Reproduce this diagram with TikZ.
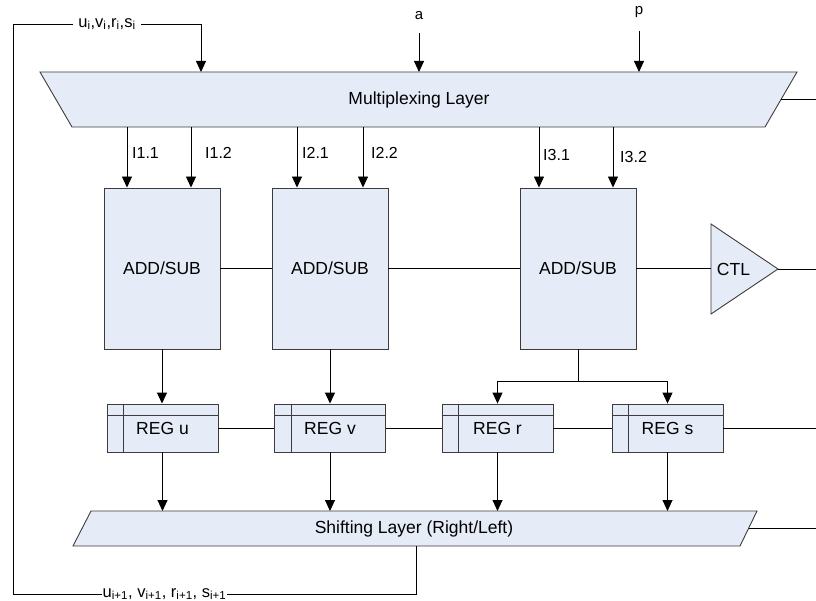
\documentclass[tikz,border=0pt]{standalone}
\usepackage{fontspec}
\setmainfont{Liberation Sans}
\usetikzlibrary{arrows.meta}
\definecolor{boxfill}{RGB}{230,236,247}
\definecolor{boxline}{RGB}{60,60,60}

\begin{document}
\begin{tikzpicture}[x=1pt,y=-1pt,
  wire/.style={line width=0.9pt, black},
  arr/.style={wire,-{Triangle[length=11pt,width=10pt]}},
  unit/.style={draw=boxline, fill=boxfill, line width=0.9pt, inner sep=0pt,
               font=\fontsize{17.5}{20}\selectfont},
  addbox/.style={unit, minimum width=116pt, minimum height=161pt},
  regbox/.style={unit, minimum width=111pt, minimum height=48pt},
  bigtext/.style={font=\fontsize{17.5}{20}\selectfont, inner sep=0pt},
  iolabel/.style={font=\fontsize{16}{19}\selectfont, anchor=west, inner sep=0pt},
  sigtext/.style={font=\fontsize{15}{18}\selectfont, inner sep=0pt},
  looptext/.style={font=\fontsize{16.5}{19}\selectfont, inner sep=0pt},
]
\useasboundingbox (0,0) rectangle (816,601);

% ---- Multiplexing layer (inverted trapezoid)
\filldraw[fill=boxfill, draw=boxline, line width=0.9pt]
  (40,72) -- (797,72) -- (765,127) -- (72,127) -- cycle;
\node[bigtext] (mux) at (419,99.5) {Multiplexing Layer};
\coordinate (muxR) at (781,99.5);
\coordinate (muxInU) at (201,72);
\coordinate (muxInA) at (419,72);
\coordinate (muxInP) at (639,72);
\coordinate (mo11) at (127,127);
\coordinate (mo12) at (191,127);
\coordinate (mo21) at (297,127);
\coordinate (mo22) at (363,127);
\coordinate (mo31) at (539,127);
\coordinate (mo32) at (613,127);

% ---- external inputs
\node[sigtext, anchor=base] (la) at (419,20) {a};
\node[sigtext, anchor=base] (lp) at (639,15) {p};
\coordinate (aTop) at (419,33);
\coordinate (pTop) at (639,31);
\draw[arr] (aTop) -- (muxInA);
\draw[arr] (pTop) -- (muxInP);

% ---- adder / subtractor units
\node[addbox] (add1) at (162,268.5) {ADD/SUB};
\node[addbox] (add2) at (330,268.5) {ADD/SUB};
\node[addbox] (add3) at (578,268.5) {ADD/SUB};

\draw[arr] (mo11) -- (mo11 |- add1.north);
\draw[arr] (mo12) -- (mo12 |- add1.north);
\draw[arr] (mo21) -- (mo21 |- add2.north);
\draw[arr] (mo22) -- (mo22 |- add2.north);
\draw[arr] (mo31) -- (mo31 |- add3.north);
\draw[arr] (mo32) -- (mo32 |- add3.north);

\node[iolabel] (l11) at (132,153) {I1.1};
\node[iolabel] (l12) at (205,153) {I1.2};
\node[iolabel] (l21) at (302,153) {I2.1};
\node[iolabel] (l22) at (371,153) {I2.2};
\node[iolabel] (l31) at (543,155) {I3.1};
\node[iolabel] (l32) at (620,157) {I3.2};

\draw[wire] (add1.east) -- (add2.west);
\draw[wire] (add2.east) -- (add3.west);

% ---- control unit
\filldraw[fill=boxfill, draw=boxline, line width=0.9pt]
  (711,224) -- (778,269) -- (711,314) -- cycle;
\node[bigtext] (ctl) at (733.5,269) {CTL};
\coordinate (ctlIn) at (711,268.5);
\coordinate (ctlOut) at (778,269);
\coordinate (ctlEnd) at (816,269);
\draw[wire] (add3.east) -- (ctlIn);
\draw[wire] (ctlOut) -- (ctlEnd);

% ---- registers
\node[regbox] (regu) at (162.5,428) {REG u};
\node[regbox] (regv) at (330,428) {REG v};
\node[regbox] (regr) at (497.5,428) {REG r};
\node[regbox] (regs) at (667.5,428) {REG s};
\foreach \r in {regu,regv,regr,regs}{
  \draw[boxline, line width=0.9pt]
    ([yshift=-12pt]\r.north west) -- ([yshift=-12pt]\r.north east);
  \draw[boxline, line width=0.9pt]
    ([xshift=17pt]\r.north west) -- ([xshift=17pt]\r.south west);
}
\coordinate (regEnd) at (816,428);

\draw[arr] (add1.south) -- (add1.south |- regu.north);
\draw[arr] (add2.south) -- (add2.south |- regv.north);
\coordinate (fork) at (578,381);
\draw[wire] (add3.south) -- (fork);
\draw[arr] (fork) -| (regr.north);
\draw[arr] (fork) -| (regs.north);

\draw[wire] (regu.east) -- (regv.west);
\draw[wire] (regv.east) -- (regr.west);
\draw[wire] (regr.east) -- (regs.west);
\draw[wire] (regs.east) -- (regEnd);

% ---- Shifting layer (parallelogram)
\filldraw[fill=boxfill, draw=boxline, line width=0.9pt]
  (91,511) -- (757,511) -- (740,546) -- (73,546) -- cycle;
\node[bigtext] (shift) at (414,528.5) {Shifting Layer (Right/Left)};
\coordinate (shTop) at (0,511);
\coordinate (shR) at (748.5,528.5);
\coordinate (shEnd) at (816,528.5);
\coordinate (shOut) at (416,546);

\draw[arr] (regu.south) -- (regu.south |- shTop);
\draw[arr] (regv.south) -- (regv.south |- shTop);
\draw[arr] (regr.south) -- (regr.south |- shTop);
\draw[arr] (regs.south) -- (regs.south |- shTop);
\draw[wire] (shR) -- (shEnd);

% ---- right-hand output of the multiplexing layer
\coordinate (muxEnd) at (816,99.5);
\draw[wire] (muxR) -- (muxEnd);

% ---- feedback loop
\coordinate (loopBL) at (13,594);
\coordinate (loopTL) at (13,24);
\draw[arr] (shOut) -- (shOut |- loopBL)
  -- node[looptext, pos=0.624, fill=white, inner xsep=1pt, inner ysep=1pt]
       (lnext) {u\textsubscript{i+1}, v\textsubscript{i+1}, r\textsubscript{i+1}, s\textsubscript{i+1}}
     (loopBL)
  -- (loopTL)
  -- node[looptext, pos=0.5, fill=white, inner xsep=5pt, inner ysep=1pt]
       (lcur) {u\textsubscript{i},v\textsubscript{i},r\textsubscript{i},s\textsubscript{i}}
     (loopTL -| muxInU)
  -- (muxInU);
\end{tikzpicture}
\end{document}
